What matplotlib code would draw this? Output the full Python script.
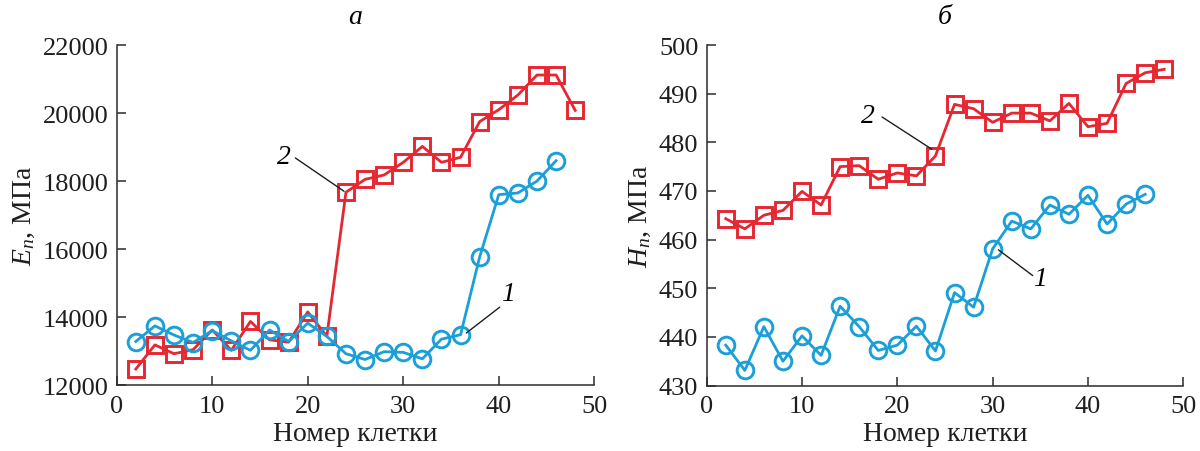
import matplotlib
matplotlib.use("Agg")
import matplotlib.pyplot as plt

# ---- data ----
x_a1 = [2, 4, 6, 8, 10, 12, 14, 16, 18, 20, 22, 24, 26, 28, 30, 32, 34, 36, 38, 40, 42, 44, 46]
E_1 = [13280, 13740, 13470, 13250, 13600, 13300, 13020, 13620, 13280, 13820, 13430, 12920, 12750,
       12980, 12960, 12770, 13350, 13480, 15770, 17600, 17650, 18000, 18600]
x_a2 = [2, 4, 6, 8, 10, 12, 14, 16, 18, 20, 22, 24, 26, 28, 30, 32, 34, 36, 38, 40, 42, 44, 46, 48]
E_2 = [12470, 13180, 12920, 13040, 13620, 13020, 13870, 13330, 13260, 14150, 13430, 17670, 18050,
       18180, 18550, 19020, 18550, 18700, 19750, 20100, 20530, 21120, 21120, 20080]

x_b1 = [2, 4, 6, 8, 10, 12, 14, 16, 18, 20, 22, 24, 26, 28, 30, 32, 34, 36, 38, 40, 42, 44, 46]
H_1 = [438.3, 433.1, 442.1, 435.0, 440.2, 436.2, 446.3, 442.1, 437.2, 438.3, 442.2, 437.1, 449.1,
       446.1, 458.1, 463.8, 462.2, 467.1, 465.2, 469.1, 463.2, 467.3, 469.3]
x_b2 = [2, 4, 6, 8, 10, 12, 14, 16, 18, 20, 22, 24, 26, 28, 30, 32, 34, 36, 38, 40, 42, 44, 46, 48]
H_2 = [464.3, 462.2, 465.0, 466.0, 469.9, 467.1, 475.0, 475.2, 472.4, 473.7, 473.1, 477.2, 487.8,
       486.9, 484.1, 486.0, 486.0, 484.4, 488.0, 483.2, 483.9, 492.1, 494.3, 495.0]

xticks = [0, 10, 20, 30, 40, 50]
yticks_a = [12000, 14000, 16000, 18000, 20000, 22000]
yticks_b = [430, 440, 450, 460, 470, 480, 490, 500]

RED = "#e62631"
BLUE = "#1a9fd9"
AX = "#2b2b2b"
TXT = "#1e1e1e"
FS_TICK = 19
FS_LAB = 20

plt.rcParams["font.family"] = ["Liberation Serif", "DejaVu Serif"]
plt.rcParams["mathtext.fontset"] = "custom"
plt.rcParams["mathtext.rm"] = "Liberation Serif"
plt.rcParams["mathtext.it"] = "Liberation Serif:italic"

fig = plt.figure(figsize=(12, 4.52), dpi=100)
ax1 = fig.add_axes([0.09725, 0.146, 0.398, 0.752])
ax2 = fig.add_axes([0.5889, 0.1449, 0.3972, 0.7533])

line_kw = dict(lw=2.0, ms=12, mew=2.1, mfc="none", clip_on=False)


def style(ax):
    for s in ("top", "right"):
        ax.spines[s].set_visible(False)
    for s in ("left", "bottom"):
        ax.spines[s].set_linewidth(1.1)
        ax.spines[s].set_color(AX)
    ax.tick_params(direction="in", length=6.5, width=1.1, colors=AX,
                   labelsize=FS_TICK, labelcolor=TXT)
    ax.tick_params(axis="y", pad=6)
    ax.tick_params(axis="x", pad=7)
    ax.set_xlim(0, 50)
    ax.set_xticks(xticks)
    ax.set_xlabel("Номер клетки", fontsize=FS_LAB, color=TXT, labelpad=3)


# ---- panel a ----
ax1.plot(x_a2, E_2, color=RED, marker="s", **line_kw)
ax1.plot(x_a1, E_1, color=BLUE, marker="o", **line_kw)
style(ax1)
ax1.set_ylim(12000, 22000)
ax1.set_yticks(yticks_a)
ax1.set_ylabel(r"$E_n$, МПа", fontsize=FS_LAB, color=TXT, labelpad=4)
ax1.set_title("а", fontsize=FS_LAB, style="italic", pad=16)
ax1.text(17.5, 18735, "2", fontsize=FS_LAB, style="italic", ha="center", va="center")
ax1.annotate("", xy=(23.8, 17700), xytext=(18.7, 18680),
             arrowprops=dict(arrowstyle="-", lw=1.0, color=TXT, shrinkA=0, shrinkB=0))
ax1.text(41.0, 14680, "1", fontsize=FS_LAB, style="italic", ha="center", va="center")
ax1.annotate("", xy=(36.6, 13530), xytext=(40.1, 14290),
             arrowprops=dict(arrowstyle="-", lw=1.0, color=TXT, shrinkA=0, shrinkB=0))

# ---- panel b ----
ax2.plot(x_b2, H_2, color=RED, marker="s", **line_kw)
ax2.plot(x_b1, H_1, color=BLUE, marker="o", **line_kw)
style(ax2)
ax2.set_ylim(430, 500)
ax2.set_yticks(yticks_b)
ax2.set_ylabel(r"$H_n$, МПа", fontsize=FS_LAB, color=TXT, labelpad=4)
ax2.set_title("б", fontsize=FS_LAB, style="italic", pad=16)
ax2.text(16.9, 485.6, "2", fontsize=FS_LAB, style="italic", ha="center", va="center")
ax2.annotate("", xy=(23.6, 478.6), xytext=(18.4, 485.2),
             arrowprops=dict(arrowstyle="-", lw=1.0, color=TXT, shrinkA=0, shrinkB=0))
ax2.text(35.0, 451.9, "1", fontsize=FS_LAB, style="italic", ha="center", va="center")
ax2.annotate("", xy=(30.6, 457.9), xytext=(34.2, 452.6),
             arrowprops=dict(arrowstyle="-", lw=1.0, color=TXT, shrinkA=0, shrinkB=0))

fig.savefig("out.png", dpi=100)
